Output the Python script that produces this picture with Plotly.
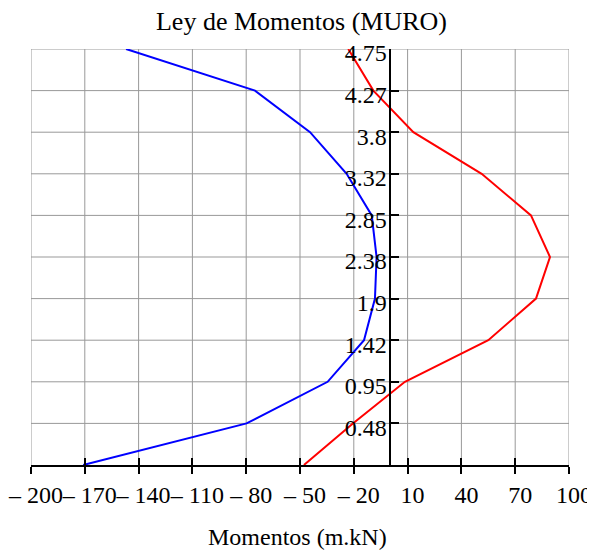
import plotly.graph_objects as go

# Data
heights = [0, 0.475, 0.95, 1.425, 1.9, 2.375, 2.85, 3.325, 3.8, 4.275, 4.75]
momento_neg = [-170.9, -79.8, -34.6, -14.3, -8.2, -7.3, -10.0, -24.0, -44.4, -75.1, -147.0]
momento_pos = [-47.8, -20.5, 8.5, 55.0, 81.6, 89.4, 78.8, 51.3, 13.2, -9.1, -23.1]

x_ticks = [-200, -170, -140, -110, -80, -50, -20, 10, 40, 70, 100]
x_labels = ["\u2013 200", "\u2013 170", "\u2013 140", "\u2013 110", "\u2013 80", "\u2013 50",
            "\u2013 20", "10", "40", "70", "100"]
y_ticks = [0, 0.475, 0.95, 1.425, 1.9, 2.375, 2.85, 3.325, 3.8, 4.275, 4.75]
y_labels = ["", "0.48", "0.95", "1.42", "1.9", "2.38", "2.85", "3.32", "3.8", "4.27", "4.75"]

x_range = [-200, 100]
y_range = [0, 4.75]

font_family = "Liberation Serif, Times New Roman, serif"
grid_color = "#999999"

# page body has an 8px margin: figure is sized/offset to compensate
W, H = 587, 545

fig = go.Figure()
fig.add_trace(go.Scatter(x=momento_neg, y=heights, mode="lines",
                         line=dict(color="#0000FF", width=2), showlegend=False))
fig.add_trace(go.Scatter(x=momento_pos, y=heights, mode="lines",
                         line=dict(color="#FF0000", width=2), showlegend=False))
# dummy trace to activate the overlay x axis (tick marks above the axis line)
fig.add_trace(go.Scatter(x=[None], y=[None], xaxis="x2", yaxis="y",
                         showlegend=False, hoverinfo="skip"))

# grid lines at every tick (including the plot edges)
for xv in x_ticks:
    fig.add_shape(type="line", xref="x", yref="paper", x0=xv, x1=xv, y0=0, y1=1,
                  line=dict(color=grid_color, width=1), layer="below")
for yv in y_ticks[1:]:
    fig.add_shape(type="line", xref="paper", yref="y", x0=0, x1=1, y0=yv, y1=yv,
                  line=dict(color=grid_color, width=1), layer="below")

# x-axis title
fig.add_annotation(text="Momentos (m.kN)", xref="paper", yref="paper",
                   x=0.495, y=-0.173, xanchor="center", yanchor="middle",
                   showarrow=False, font=dict(size=24))

y_axis_pos = (0 - x_range[0]) / (x_range[1] - x_range[0])

fig.update_layout(
    width=W, height=H,
    margin=dict(l=23, r=26, t=41, b=88, pad=0, autoexpand=False),
    paper_bgcolor="white", plot_bgcolor="white",
    font=dict(family=font_family, color="black", size=24),
    title=dict(text="Ley de Momentos (MURO)", x=0.5, xanchor="center",
               y=1 - 13 / H, yanchor="middle", font=dict(size=26)),
    xaxis=dict(range=x_range, tickvals=x_ticks, ticktext=x_labels, tickangle=0,
               showgrid=False, automargin=False, ticklabeloverflow="allow",
               ticklabelshift=5,
               zeroline=False, showline=True, linecolor="black", linewidth=2,
               ticks="outside", ticklen=7, tickwidth=2, tickcolor="black",
               tickfont=dict(size=24)),
    xaxis2=dict(range=x_range, overlaying="x", anchor="y", side="bottom",
                tickvals=x_ticks, showticklabels=False, showgrid=False, automargin=False,
                zeroline=False, showline=False,
                ticks="inside", ticklen=7, tickwidth=2, tickcolor="black"),
    yaxis=dict(range=y_range, tickvals=y_ticks, ticktext=y_labels,
               anchor="free", position=y_axis_pos, side="left", automargin=False,
               showgrid=False, ticklabelshift=4, ticklabelstandoff=-3,
               ticklabeloverflow="allow",
               zeroline=False, showline=True, linecolor="black", linewidth=2,
               ticks="inside", ticklen=8, tickwidth=2, tickcolor="black",
               tickfont=dict(size=24)),
)

fig.write_html("out.html")
